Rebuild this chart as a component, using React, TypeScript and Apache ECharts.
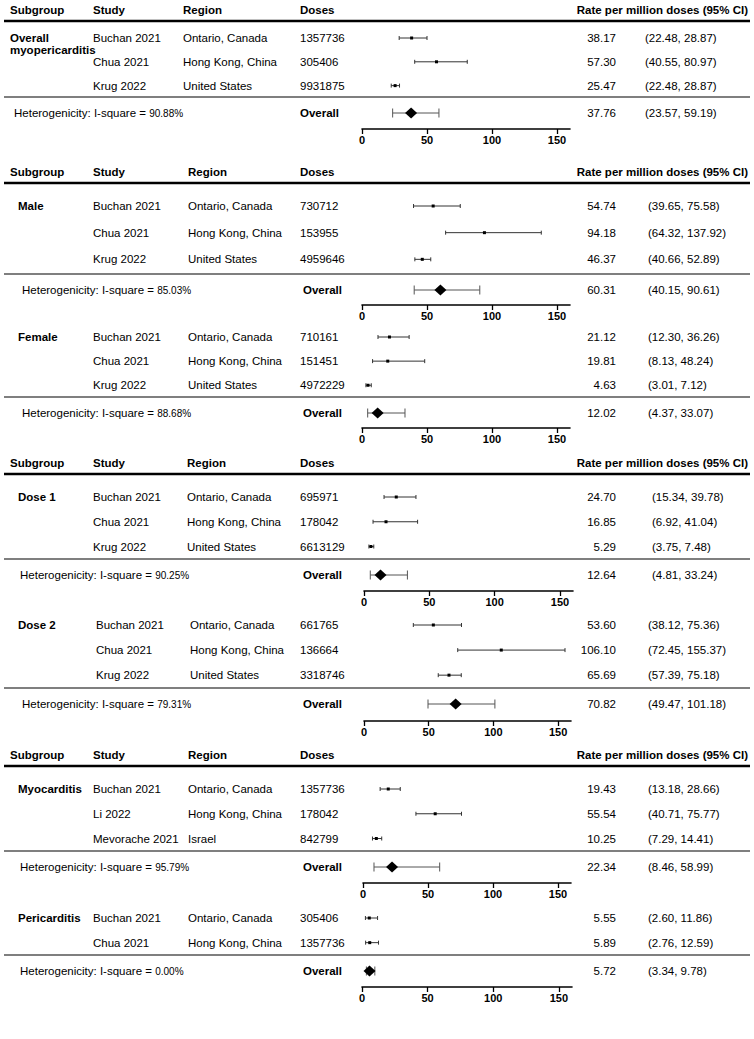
import React, { useEffect, useRef } from "react";
import * as echarts from "echarts";

// ---------------- data ----------------
const subgroups = ["Overall\nmyopericarditis", "Male", "Female", "Dose 1", "Dose 2", "Myocarditis", "Pericarditis"];

const studies = [
  ["Buchan 2021", "Chua 2021", "Krug 2022"],
  ["Buchan 2021", "Chua 2021", "Krug 2022"],
  ["Buchan 2021", "Chua 2021", "Krug 2022"],
  ["Buchan 2021", "Chua 2021", "Krug 2022"],
  ["Buchan 2021", "Chua 2021", "Krug 2022"],
  ["Buchan 2021", "Li 2022", "Mevorache 2021"],
  ["Buchan 2021", "Chua 2021"],
];

const regions = [
  ["Ontario, Canada", "Hong Kong, China", "United States"],
  ["Ontario, Canada", "Hong Kong, China", "United States"],
  ["Ontario, Canada", "Hong Kong, China", "United States"],
  ["Ontario, Canada", "Hong Kong, China", "United States"],
  ["Ontario, Canada", "Hong Kong, China", "United States"],
  ["Ontario, Canada", "Hong Kong, China", "Israel"],
  ["Ontario, Canada", "Hong Kong, China"],
];

const doses = [
  [1357736, 305406, 9931875],
  [730712, 153955, 4959646],
  [710161, 151451, 4972229],
  [695971, 178042, 6613129],
  [661765, 136664, 3318746],
  [1357736, 178042, 842799],
  [305406, 1357736],
];

const rates = [
  [38.17, 57.3, 25.47],
  [54.74, 94.18, 46.37],
  [21.12, 19.81, 4.63],
  [24.7, 16.85, 5.29],
  [53.6, 106.1, 65.69],
  [19.43, 55.54, 10.25],
  [5.55, 5.89],
];

// whiskers as drawn
const ciLower = [
  [28.6, 40.55, 22.48],
  [39.65, 64.32, 40.66],
  [12.3, 8.13, 3.01],
  [15.34, 6.92, 3.75],
  [38.12, 72.45, 57.39],
  [13.18, 40.71, 7.29],
  [2.6, 2.76],
];
const ciUpper = [
  [50.0, 80.97, 28.87],
  [75.58, 137.92, 52.89],
  [36.26, 48.24, 7.12],
  [39.78, 41.04, 7.48],
  [75.36, 155.37, 75.18],
  [28.66, 75.77, 14.41],
  [11.86, 12.59],
];

// CI text as printed
const ciLabels = [
  ["(22.48, 28.87)", "(40.55, 80.97)", "(22.48, 28.87)"],
  ["(39.65, 75.58)", "(64.32, 137.92)", "(40.66, 52.89)"],
  ["(12.30, 36.26)", "(8.13, 48.24)", "(3.01, 7.12)"],
  ["(15.34, 39.78)", "(6.92, 41.04)", "(3.75, 7.48)"],
  ["(38.12, 75.36)", "(72.45, 155.37)", "(57.39, 75.18)"],
  ["(13.18, 28.66)", "(40.71, 75.77)", "(7.29, 14.41)"],
  ["(2.60, 11.86)", "(2.76, 12.59)"],
];

const pooledRate = [37.76, 60.31, 12.02, 12.64, 70.82, 22.34, 5.72];
const pooledLower = [23.57, 40.15, 4.37, 4.81, 49.47, 8.46, 3.34];
const pooledUpper = [59.19, 90.61, 33.07, 33.24, 101.18, 58.99, 9.78];
const iSquare = ["90.88%", "85.03%", "88.68%", "90.25%", "79.31%", "95.79%", "0.00%"];

const headerLabels = ["Subgroup", "Study", "Region", "Doses"];
const rateHeader = "Rate per million doses (95% CI)";
const axisTicks = [0, 50, 100, 150];

// ---------------- layout ----------------
const FONT = "'Liberation Sans', Arial, Helvetica, sans-serif";
const FS = 11.5;
const OVERALL_GAP = 0.15;

const headerY = [10, 172, 463, 755];
const headerLineY = [21, 183, 474, 766];
const headerColX = [
  [10, 93, 183, 300],
  [10, 93, 188, 300],
  [10, 93, 187, 300],
  [10, 93, 188, 300],
];

const plotTop = [38, 206, 337, 497, 625, 789, 918];
const plotOverallY = [113, 290, 413, 575, 704, 867, 971];
const plotAxisY = [129, 305, 428, 591, 721, 883, 987];
const plotLeft = [362, 362, 362, 364, 364, 363, 362];
const plotRight = [570, 570, 570, 573, 571, 571, 572];

const subgroupX = [10, 18, 18, 18, 18, 18, 18];
const studyX = [93, 93, 93, 93, 96, 93, 93];
const regionX = [183, 188, 188, 187, 190, 188, 188];
const dosesX = 300;
const rateRightX = 616;
const ciX = [645, 648, 648, 652, 648, 648, 648];
const hetX = [14, 22, 22, 20, 22, 20, 20];
const overallLabelX = [300, 303, 303, 303, 303, 303, 303];

function txt(text: string, x: number, y: number, opts: any = {}) {
  const align = opts.align || "left";
  const va = opts.verticalAlign || "middle";
  return {
    type: "text",
    silent: true,
    style: {
      text,
      x,
      y,
      fill: "#000",
      fontSize: FS,
      fontFamily: FONT,
      fontWeight: opts.fontWeight || "normal",
      align,
      textAlign: align,
      verticalAlign: va,
      textVerticalAlign: va,
      lineHeight: opts.lineHeight,
      rich: opts.rich,
    },
  };
}

function makeRender(p: number) {
  return (params: any, api: any) => {
    const i = params.dataIndex;
    const n = studies[p].length;
    const overall = i === n;
    const row = api.value(3);
    const c = api.coord([api.value(0), row]);
    const cx = c[0];
    const cy = c[1];
    const lx = api.coord([api.value(1), row])[0];
    const hx = api.coord([api.value(2), row])[0];
    const capH = overall ? 4.5 : 2;
    const stroke = overall ? "#555" : "#333";
    const children: any[] = [
      { type: "line", shape: { x1: lx, y1: cy, x2: hx, y2: cy }, style: { stroke, lineWidth: 1 } },
      { type: "line", shape: { x1: lx, y1: cy - capH, x2: lx, y2: cy + capH }, style: { stroke, lineWidth: 1 } },
      { type: "line", shape: { x1: hx, y1: cy - capH, x2: hx, y2: cy + capH }, style: { stroke, lineWidth: 1 } },
    ];
    if (overall) {
      children.push({
        type: "polygon",
        shape: { points: [[cx - 6, cy], [cx, cy - 5.5], [cx + 6, cy], [cx, cy + 5.5]] },
        style: { fill: "#000" },
      });
      children.push({
        type: "line",
        shape: { x1: 4, y1: cy - 16, x2: 750, y2: cy - 16 },
        style: { stroke: "#555", lineWidth: 1.3 },
      });
      children.push(
        txt(`{a|Heterogenicity: I-square = }{b|${iSquare[p]}}`, hetX[p], cy, {
          rich: {
            a: { fontSize: FS, fontFamily: FONT, fill: "#000" },
            b: { fontSize: 10, fontFamily: FONT, fill: "#000" },
          },
        })
      );
      children.push(txt("Overall", overallLabelX[p], cy, { fontWeight: "bold" }));
      children.push(txt(pooledRate[p].toFixed(2), rateRightX, cy, { align: "right" }));
      children.push(txt(`(${pooledLower[p].toFixed(2)}, ${pooledUpper[p].toFixed(2)})`, ciX[p], cy));
    } else {
      children.push({
        type: "rect",
        shape: { x: cx - 1.5, y: cy - 1.5, width: 3, height: 3 },
        style: { fill: "#000" },
      });
      children.push(txt(studies[p][i], studyX[p], cy));
      children.push(txt(regions[p][i], regionX[p], cy));
      children.push(txt(String(doses[p][i]), dosesX, cy));
      children.push(txt(rates[p][i].toFixed(2), rateRightX, cy, { align: "right" }));
      children.push(txt(ciLabels[p][i], ciX[p], cy));
      if (i === 0) {
        children.push(
          txt(subgroups[p], subgroupX[p], cy - 6.5, { fontWeight: "bold", verticalAlign: "top", lineHeight: 12.5 })
        );
      }
    }
    return { type: "group", children };
  };
}

export default function App() {
  const ref = useRef<HTMLDivElement>(null);
  useEffect(() => {
    if (!ref.current) return;
    const chart = echarts.init(ref.current, null, { renderer: "svg" });
    const grid: any[] = [];
    const xAxis: any[] = [];
    const yAxis: any[] = [];
    const series: any[] = [];
    subgroups.forEach((_, p) => {
      const n = studies[p].length;
      grid.push({
        left: plotLeft[p],
        top: plotTop[p],
        width: plotRight[p] - plotLeft[p],
        height: plotOverallY[p] - plotTop[p],
      });
      xAxis.push({
        type: "value",
        gridIndex: p,
        min: 0,
        max: 160,
        interval: 50,
        position: "bottom",
        offset: plotAxisY[p] - plotOverallY[p],
        splitLine: { show: false },
        axisLine: { show: true, onZero: false, lineStyle: { color: "#000", width: 1.6 } },
        axisTick: { show: true, length: 5, customValues: axisTicks, lineStyle: { color: "#000", width: 1.3 } },
        axisLabel: {
          customValues: axisTicks,
          color: "#000",
          fontWeight: "bold",
          fontSize: 11,
          fontFamily: FONT,
          margin: 5,
        },
      });
      yAxis.push({ type: "value", gridIndex: p, inverse: true, min: 0, max: n + OVERALL_GAP, show: false });
      const data: number[][] = studies[p].map((_s, i) => [rates[p][i], ciLower[p][i], ciUpper[p][i], i]);
      data.push([pooledRate[p], pooledLower[p], pooledUpper[p], n + OVERALL_GAP]);
      series.push({
        type: "custom",
        xAxisIndex: p,
        yAxisIndex: p,
        data,
        encode: { x: [0, 1, 2], y: 3 },
        clip: false,
        silent: true,
        renderItem: makeRender(p),
      });
    });

    const graphic: any[] = [];
    headerY.forEach((hy, b) => {
      headerLabels.forEach((lab, k) => {
        graphic.push({
          type: "text",
          x: headerColX[b][k],
          y: hy,
          silent: true,
          style: {
            text: lab,
            fill: "#000",
            fontSize: FS,
            fontWeight: "bold",
            fontFamily: FONT,
            textAlign: "left",
            textVerticalAlign: "middle",
          },
        });
      });
      graphic.push({
        type: "text",
        x: 748,
        y: hy,
        silent: true,
        style: {
          text: rateHeader,
          fill: "#000",
          fontSize: FS,
          fontWeight: "bold",
          fontFamily: FONT,
          textAlign: "right",
          textVerticalAlign: "middle",
        },
      });
      graphic.push({
        type: "line",
        silent: true,
        shape: { x1: 4, y1: headerLineY[b], x2: 750, y2: headerLineY[b] },
        style: { stroke: "#000", lineWidth: 2.6 },
      });
    });

    chart.setOption({
      animation: false,
      grid,
      xAxis,
      yAxis,
      series,
      graphic,
    });
    return () => chart.dispose();
  }, []);
  return (
    <div
      ref={ref}
      style={{ position: "absolute", left: 0, top: 0, width: 754, height: 1039, background: "#fff" }}
    />
  );
}
